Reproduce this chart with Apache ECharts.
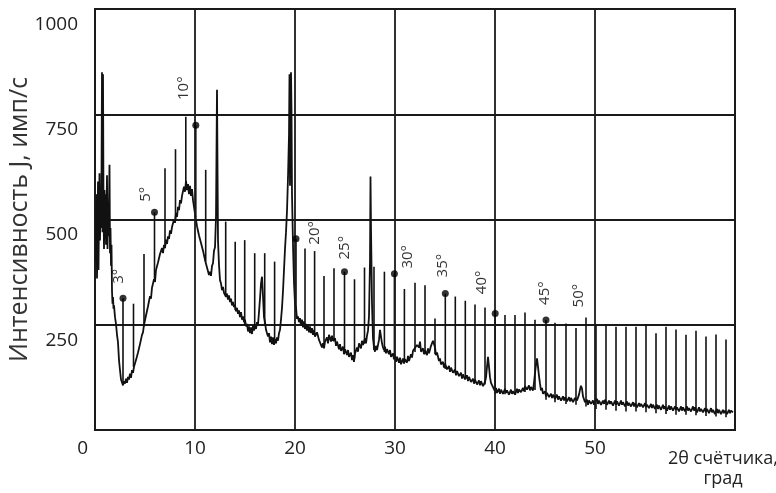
<!DOCTYPE html>
<html>
<head>
<meta charset="utf-8">
<script src="https://cdn.jsdelivr.net/npm/echarts@6/dist/echarts.min.js"></script>
<style>
html, body { margin: 0; padding: 0; background: #fff; }
#chart { width: 776px; height: 493px; }
</style>
</head>
<body>
<div id="chart"></div>
<script>
// тик-метки осей
const xTicks = [0, 10, 20, 30, 40, 50];
const yTicks = [250, 500, 750, 1000];

// дифрактограмма: [2θ, J]
const curveStart = [
  [0.1,400],[0.15,560],[0.2,360],[0.25,470],[0.3,590],[0.35,380],[0.4,520],[0.45,610],[0.5,450],[0.55,560],
  [0.6,480],[0.65,600],[0.7,850],[0.75,470],[0.8,845],[0.85,540],[0.9,430],[0.95,570],[1.0,470],[1.05,560],
  [1.1,440],[1.15,520],[1.2,605],[1.25,430],[1.3,500],[1.35,460],[1.4,540],[1.45,630],[1.5,420],[1.55,480],
  [1.6,390],[1.65,440],[1.7,330],[1.75,300],[1.8,316],[1.85,288],[1.9,296],[2.0,268],[2.1,252],[2.2,226],
  [2.3,208],[2.4,166],[2.5,142],[2.6,120],[2.7,116],[2.8,106],[2.9,116],[3.0,110],[3.1,122],[3.2,112],
  [3.3,126],[3.4,120],[3.5,134],[3.6,124],[3.7,142],[3.8,136],[3.9,150],[4.0,152],[4.1,166],[4.2,168],
  [4.3,184],[4.4,188],[4.5,204],[4.6,208],[4.7,226],[4.8,232],[4.9,250],[5.0,252],[5.1,272],[5.2,270],
  [5.3,294],[5.4,294],[5.5,318],[5.6,312],[5.7,338],[5.8,334],[5.9,358],[6.0,352],[6.1,380],[6.2,378],
  [6.3,398],[6.4,398],[6.5,418],[6.6,414],[6.7,432],[6.8,420],[6.9,440],[7.0,432],[7.1,452],[7.2,442],
  [7.3,460],[7.4,454],[7.5,474],[7.6,466],[7.7,482],[7.8,478],[7.9,500],[8.0,492],[8.1,516],[8.2,506],
  [8.3,530],[8.4,522],[8.5,546],[8.6,538],[8.7,556],[8.8,552],[8.9,578],[9.0,566],[9.1,592],[9.2,570],
  [9.3,584],[9.4,560],[9.5,580],[9.6,556],[9.7,572],[9.8,546],[9.9,548],[10.0,514],[10.1,512],[10.2,484],
  [10.3,486],[10.4,462],[10.5,466],[10.6,444],[10.7,448],[10.8,426],[10.9,428],[11.0,404],[11.1,406],[11.2,386],
  [11.3,390],[11.4,368],[11.5,376],[11.6,366],[11.7,390],[11.8,396],[11.9,426],[12.0,434],[12.1,505],[12.2,808],
  [12.3,450],[12.4,392],[12.5,356]
];
const curveMid = [
  [12.6,348],[12.7,332],[12.8,340],[12.9,326],[13.0,330],[13.1,316],[13.2,324],[13.3,310],[13.4,320],[13.5,304],
  [13.6,312],[13.7,296],[13.8,304],[13.9,292],[14.0,298],[14.1,282],[14.2,290],[14.3,276],[14.4,284],[14.5,268],
  [14.6,280],[14.7,262],[14.8,270],[14.9,256],[15.0,262],[15.1,246],[15.2,252],[15.3,234],[15.4,246],[15.5,230],
  [15.6,244],[15.7,228],[15.8,248],[15.9,236],[16.0,250],[16.1,240],[16.2,256],[16.3,250],[16.4,280],[16.5,312],
  [16.6,348],[16.7,364],[16.8,318],[16.9,268],[17.0,256],[17.1,238],[17.2,242],[17.3,222],[17.4,230],[17.5,208],
  [17.6,222],[17.7,204],[17.8,220],[17.9,202],[18.0,216],[18.1,206],[18.2,220],[18.3,212],[18.4,230],[18.5,238],
  [18.6,262],[18.7,290],[18.8,330],[18.9,380],[19.0,430],[19.1,470],[19.2,520],[19.3,600],[19.4,700],[19.45,845],
  [19.5,580],[19.55,700],[19.6,850],[19.65,760],[19.7,560],[19.8,440],[19.9,350],[20.0,300],[20.1,290],[20.2,264],
  [20.3,270],[20.4,256],[20.5,266],[20.6,248],[20.7,262],[20.8,244],[20.9,258],[21.0,240],[21.1,252],[21.2,236],
  [21.3,250],[21.4,232],[21.5,246],[21.6,230],[21.7,242],[21.8,226],[21.9,238],[22.0,222],[22.2,232],[22.4,214],
  [22.6,212],[22.7,196],[22.8,206],[22.9,194],[23.0,210],[23.2,220],[23.3,206],[23.4,226],[23.6,210],[23.7,224],
  [23.8,212],[24.0,218],[24.1,200],[24.2,210],[24.4,192],[24.5,204],[24.6,188],[24.8,198],[24.9,180],[25.0,192],
  [25.2,178],[25.3,190],[25.4,174],[25.6,184],[25.7,166],[25.8,178],[25.9,162],[26.0,182],[26.2,196],[26.3,186],
  [26.4,206],[26.6,194],[26.7,212],[26.8,202],[27.0,218],[27.1,206],[27.2,224],[27.3,236],[27.4,270],[27.5,400],
  [27.55,602],[27.6,480],[27.7,300],[27.8,218],[27.9,196],[28.0,186],[28.1,200],[28.2,190],[28.4,214],[28.5,238],
  [28.6,222],[28.7,206],[28.8,196],[28.9,190],[29.0,198],[29.1,182],[29.2,192],[29.4,180],[29.5,190],[29.6,174],
  [29.8,182],[29.9,168],[30.0,178],[30.1,162],[30.2,174],[30.4,160],[30.5,172],[30.6,156],[30.8,170],[30.9,158],
  [31.0,168],[31.2,160],[31.3,176],[31.4,164],[31.6,180],[31.7,172],[31.8,188],[32.0,184],[32.2,202],[32.4,196],
  [32.5,210],[32.6,186],[32.8,194],[32.9,180],[33.0,190],[33.2,178],[33.3,194],[33.4,182],[33.6,200],[33.8,212],
  [33.9,204]
];
const curveEnd = [
  [34.0,196],[34.1,178],[34.2,184],[34.4,164],[34.5,170],[34.6,156],[34.8,162],[34.9,148],[35.0,158],[35.2,144],
  [35.4,152],[35.5,138],[35.6,148],[35.8,136],[36.0,144],[36.1,130],[36.2,140],[36.4,128],[36.6,136],[36.7,122],
  [36.8,132],[37.0,120],[37.2,130],[37.3,116],[37.4,126],[37.6,114],[37.8,122],[37.9,110],[38.0,120],[38.2,108],
  [38.4,118],[38.5,106],[38.6,116],[38.8,104],[39.0,114],[39.1,125],[39.2,150],[39.3,174],[39.4,150],[39.5,125],
  [39.6,112],[39.8,102],[40.0,92],[40.1,100],[40.2,88],[40.4,98],[40.5,86],[40.6,96],[40.8,86],[41.0,98],
  [41.1,88],[41.2,94],[41.4,84],[41.6,96],[41.7,86],[41.8,92],[42.0,84],[42.2,98],[42.3,88],[42.4,96],
  [42.6,90],[42.8,100],[42.9,92],[43.0,104],[43.2,96],[43.4,106],[43.5,94],[43.6,102],[43.8,94],[43.9,112],
  [44.0,135],[44.1,155],[44.2,170],[44.3,150],[44.4,128],[44.5,110],[44.6,94],[44.7,100],[44.8,86],[45.0,92],
  [45.1,80],[45.2,88],[45.4,78],[45.6,86],[45.7,76],[45.8,84],[46.0,74],[46.2,84],[46.3,72],[46.4,80],
  [46.6,70],[46.8,80],[46.9,70],[47.0,78],[47.2,68],[47.4,78],[47.5,68],[47.6,76],[47.8,66],[48.0,76],
  [48.2,70],[48.4,84],[48.5,96],[48.6,105],[48.7,98],[48.8,80],[49.0,66],[49.2,72],[49.3,60],[49.4,70],
  [49.6,62],[49.8,70],[49.9,60],[50.0,68],[50.2,74],[50.3,62],[50.4,70],[50.6,60],[50.8,70],[50.9,62],
  [51.0,72],[51.2,60],[51.4,70],[51.5,62],[51.6,68],[51.8,58],[52.0,70],[52.1,60],[52.2,68],[52.4,58],
  [52.6,70],[52.7,60],[52.8,66],[53.0,56],[53.2,68],[53.3,58],[53.4,64],[53.6,56],[53.8,66],[53.9,56],
  [54.0,64],[54.2,54],[54.4,64],[54.5,56],[54.6,62],[54.8,54],[55.0,64],[55.1,54],[55.2,60],[55.4,52],
  [55.6,62],[55.7,52],[55.8,60],[56.0,50],[56.2,60],[56.3,50],[56.4,58],[56.6,48],[56.8,60],[56.9,50],
  [57.0,56],[57.2,46],[57.4,58],[57.5,48],[57.6,56],[57.8,46],[58.0,56],[58.1,48],[58.2,54],[58.4,44],
  [58.6,56],[58.7,46],[58.8,54],[59.0,44],[59.2,56],[59.3,46],[59.4,52],[59.6,44],[59.8,56],[59.9,46],
  [60.0,54],[60.2,42],[60.4,54],[60.5,44],[60.6,50],[60.8,42],[61.0,52],[61.1,42],[61.2,50],[61.4,40],
  [61.6,52],[61.7,42],[61.8,48],[62.0,38],[62.2,50],[62.3,40],[62.4,48],[62.6,38],[62.8,48],[62.9,40],
  [63.0,46],[63.2,38],[63.4,48],[63.5,40],[63.6,46],[63.8,42]
];

// отметки шкалы счётчика: [2θ, низ, верх]
const scaleMarks = [
  [2.8,108,313],[3.85,150,300],[4.9,246,418],[5.95,355,517],[7.0,440,622],[8.05,500,667],[9.08,578,744],
  [10.08,505,724],[11.07,400,618],[13.07,318,495],[14.02,285,447],[14.97,250,451],[15.97,240,420],
  [16.97,250,420],[17.96,205,400],[20.1,280,454],[21.0,240,431],[21.96,225,425],[22.9,195,366],
  [23.9,210,384],[24.95,185,376],[25.95,170,358],[26.95,205,386],[27.9,190,388],[28.94,185,376],
  [29.94,170,371],[30.94,160,335],[32.0,185,350],[33.0,180,344],[34.0,180,265],[35.03,145,324],
  [36.03,135,317],[37.03,122,307],[38.0,112,298],[39.0,108,291],[40.02,85,277],[41.0,85,273],
  [42.0,85,273],[43.0,90,279],[44.0,95,262],[45.1,72,261],[46.0,66,255],[47.1,62,253],[48.1,60,242],
  [49.1,56,267],[50.1,50,248],[51.1,48,248],[52.1,46,245],[53.1,44,245],[54.1,44,245],[55.1,42,250],
  [56.1,40,230],[57.1,38,245],[58.1,36,239],[59.1,36,226],[60.1,35,236],[61.1,33,222],[62.1,32,227],
  [63.1,30,215]
];

// подписанные градусы шкалы
const degreeNames = ['3°', '5°', '10°', '20°', '25°', '30°', '35°', '40°', '45°', '50°'];
const degreeX = [2.8, 5.95, 10.08, 20.1, 24.95, 29.94, 35.03, 40.02, 45.1, 49.1];
const degreeY = [313, 517, 724, 454, 376, 371, 324, 277, 261, 267];

// смещения подписей в пикселях (экранные dx, dy)
const labelShift = [[-4,-22],[-9,-18],[-12,-37],[19,-6],[0,-24],[13,-17],[-3,-28],[-13,-31],[-1,-27],[-7,-22]];

const chart = echarts.init(document.getElementById('chart'));
const ink = '#1a1a1a';
const font = '"Open Sans", "Noto Sans", sans-serif';

const degreeData = degreeNames.map((name, i) => ({
	value: [degreeX[i], degreeY[i]],
	symbolSize: name === '50°' ? 0 : 7,
	label: {
		formatter: name,
		// offset поворачивается вместе с подписью
		offset: [-labelShift[i][1], labelShift[i][0]]
	}
}));

const option = {
	animation: false,
	backgroundColor: '#fff',
	textStyle: { fontFamily: font },
	title: {
		text: '2θ счётчика,\nград',
		left: 718,
		top: 444,
		textAlign: 'center',
		textStyle: { fontSize: 18, fontWeight: 'normal', color: '#222', lineHeight: 20, fontFamily: font }
	},
	grid: {
		left: 95,
		right: 41,
		top: 9,
		bottom: 63,
		outerBoundsMode: 'none',
		show: true,
		borderColor: ink,
		borderWidth: 2
	},
	xAxis: {
		type: 'value',
		min: 0,
		max: 64,
		interval: 10,
		axisLine: { lineStyle: { color: ink, width: 2 } },
		axisTick: { show: false },
		splitLine: { show: false },
		axisLabel: {
			fontSize: 19,
			color: '#222',
			margin: 9,
			alignMinLabel: 'right',
			formatter: v => (xTicks.indexOf(v) >= 0 ? (v === 0 ? '{z|0}' : String(v)) : ''),
			rich: { z: { fontSize: 19, color: '#222', padding: [0, 7, 0, 0] } }
		}
	},
	yAxis: {
		type: 'value',
		min: 0,
		max: 1000,
		interval: 250,
		name: 'Интенсивность J, имп/с',
		nameLocation: 'middle',
		nameGap: 63,
		nameMoveOverlap: false,
		nameTextStyle: { fontSize: 25, color: '#333' },
		axisLine: { show: true, lineStyle: { color: ink, width: 2 } },
		axisTick: { show: false },
		splitLine: { lineStyle: { color: ink, width: 1.8 } },
		axisLabel: {
			fontSize: 19,
			color: '#222',
			margin: 17,
			verticalAlign: 'top',
			padding: [6, 0, 0, 0],
			formatter: v => (yTicks.indexOf(v) >= 0 ? String(v) : '')
		}
	},
	series: [
		{
			type: 'line',
			data: curveStart.concat(curveMid, curveEnd),
			showSymbol: false,
			lineStyle: { color: '#111', width: 1.8 },
			z: 3,
			markLine: {
				silent: true,
				symbol: 'none',
				label: { show: false },
				lineStyle: { color: ink, width: 1.8, type: 'solid' },
				data: xTicks.filter(v => v > 0).map(v => ({ xAxis: v }))
			}
		},
		{
			type: 'custom',
			data: scaleMarks,
			encode: { x: 0, y: [1, 2] },
			z: 4,
			renderItem: function (params, api) {
				const lo = api.coord([api.value(0), api.value(1)]);
				const hi = api.coord([api.value(0), api.value(2)]);
				return {
					type: 'line',
					shape: { x1: lo[0], y1: lo[1], x2: hi[0], y2: hi[1] },
					style: { stroke: '#111', lineWidth: 1.6 }
				};
			}
		},
		{
			type: 'scatter',
			data: degreeData,
			symbol: 'circle',
			itemStyle: { color: '#000' },
			z: 5,
			label: {
				show: true,
				position: 'inside',
				rotate: 90,
				fontSize: 15,
				color: '#000',
				fontFamily: font
			}
		}
	]
};

chart.setOption(option);
</script>
</body>
</html>
